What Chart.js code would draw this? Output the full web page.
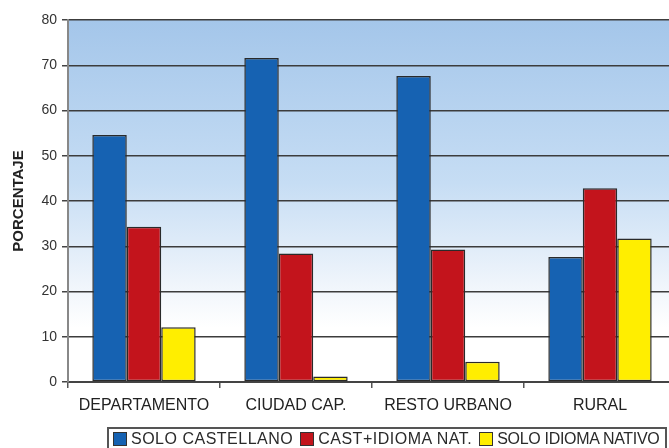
<!DOCTYPE html>
<html>
<head>
<meta charset="utf-8">
<script src="https://cdn.jsdelivr.net/npm/chart.js@4/dist/chart.umd.min.js"></script>
<style>
  html, body { margin: 0; padding: 0; background: #fff; overflow: hidden; }
  #wrap { position: relative; width: 676px; height: 448px; }
  #legend {
    position: absolute; left: 107px; top: 427px; width: 560px; height: 24px;
    border: 2px solid #555; box-sizing: border-box;
    font: 16px "Liberation Sans", Arial, sans-serif; color: #2a2a2a;
    display: flex; align-items: center; white-space: nowrap; letter-spacing: 0.5px;
    padding-left: 4px;
  }
  #legend span.sw {
    display: inline-block; width: 12px; height: 12px; border: 1px solid #333;
    margin-right: 4px; vertical-align: middle;
  }
  #legend .item { margin-right: 7px; display: flex; align-items: center; }
  #legend .item:last-child { letter-spacing: -0.3px; margin-right: 0; }
</style>
</head>
<body>
<div id="wrap">
  <canvas id="chart"></canvas>
  <div id="legend"></div>
</div>
<script>
const categories = ["DEPARTAMENTO", "CIUDAD CAP.", "RESTO URBANO", "RURAL"];
const seriesNames = ["SOLO CASTELLANO", "CAST+IDIOMA NAT.", "SOLO IDIOMA NATIVO"];
const soloCastellano = [54.6, 71.6, 67.6, 27.6];
const castIdioma = [34.3, 28.4, 29.3, 42.8];
const soloNativo = [12.1, 1.2, 4.5, 31.7];
const colors = ["#1662b2", "#c3141c", "#ffee00"];
const yTicks = [0, 10, 20, 30, 40, 50, 60, 70, 80];

// gradient behind the plot area
const bgPlugin = {
  id: "plotBg",
  beforeDraw(chart) {
    const { ctx, chartArea: a } = chart;
    const g = ctx.createLinearGradient(0, a.top, 0, a.bottom);
    g.addColorStop(0, "rgb(164,198,234)");
    g.addColorStop(0.45, "rgb(198,221,244)");
    g.addColorStop(0.72, "rgb(238,244,251)");
    g.addColorStop(0.85, "#ffffff");
    ctx.save();
    ctx.fillStyle = g;
    ctx.fillRect(a.left, a.top, a.right - a.left, a.bottom - a.top);
    ctx.restore();
  }
};

const ctx = document.getElementById("chart").getContext("2d");
new Chart(ctx, {
  type: "bar",
  data: {
    labels: categories,
    datasets: [
      { label: seriesNames[0], data: soloCastellano, backgroundColor: colors[0] },
      { label: seriesNames[1], data: castIdioma, backgroundColor: colors[1] },
      { label: seriesNames[2], data: soloNativo, backgroundColor: colors[2] }
    ].map(d => Object.assign(d, {
      borderColor: "#2a2a2a", borderWidth: 1.5, borderSkipped: false,
      categoryPercentage: 0.68, barPercentage: 1.0
    }))
  },
  options: {
    responsive: true,
    maintainAspectRatio: false,
    animation: false,
    layout: { padding: { top: 20, left: 0, right: 0, bottom: 0 } },
    plugins: { legend: { display: false }, tooltip: { enabled: false } },
    scales: {
      x: {
        afterFit(s) { s.height = 66; },
        grid: { display: true, drawOnChartArea: false, drawTicks: true, tickLength: 6, color: "#555", lineWidth: 1.5 },
        border: { display: true, color: "#444", width: 2 },
        ticks: { color: "#222", padding: 8, font: { family: "Liberation Sans", size: 16 } }
      },
      y: {
        min: 0, max: 80,
        afterFit(s) { s.width = 68; },
        afterBuildTicks(s) { s.ticks = yTicks.map(v => ({ value: v })); },
        grid: { color: "#3c3c3c", lineWidth: 1.5, tickLength: 6, tickColor: "#444" },
        border: { display: true, color: "#888", width: 2 },
        ticks: { color: "#333", padding: 5, font: { family: "Liberation Sans", size: 14 } },
        title: {
          display: true, text: "PORCENTAJE", color: "#222",
          font: { family: "Liberation Sans", size: 15, weight: "bold" },
          padding: { top: 10, bottom: 0 }
        }
      }
    }
  },
  plugins: [bgPlugin]
});

// legend in a bordered box, built from the series names
const legendEl = document.getElementById("legend");
seriesNames.forEach((name, i) => {
  const it = document.createElement("div");
  it.className = "item";
  const sw = document.createElement("span");
  sw.className = "sw";
  sw.style.background = colors[i];
  it.appendChild(sw);
  it.appendChild(document.createTextNode(name));
  legendEl.appendChild(it);
});
</script>
</body>
</html>
